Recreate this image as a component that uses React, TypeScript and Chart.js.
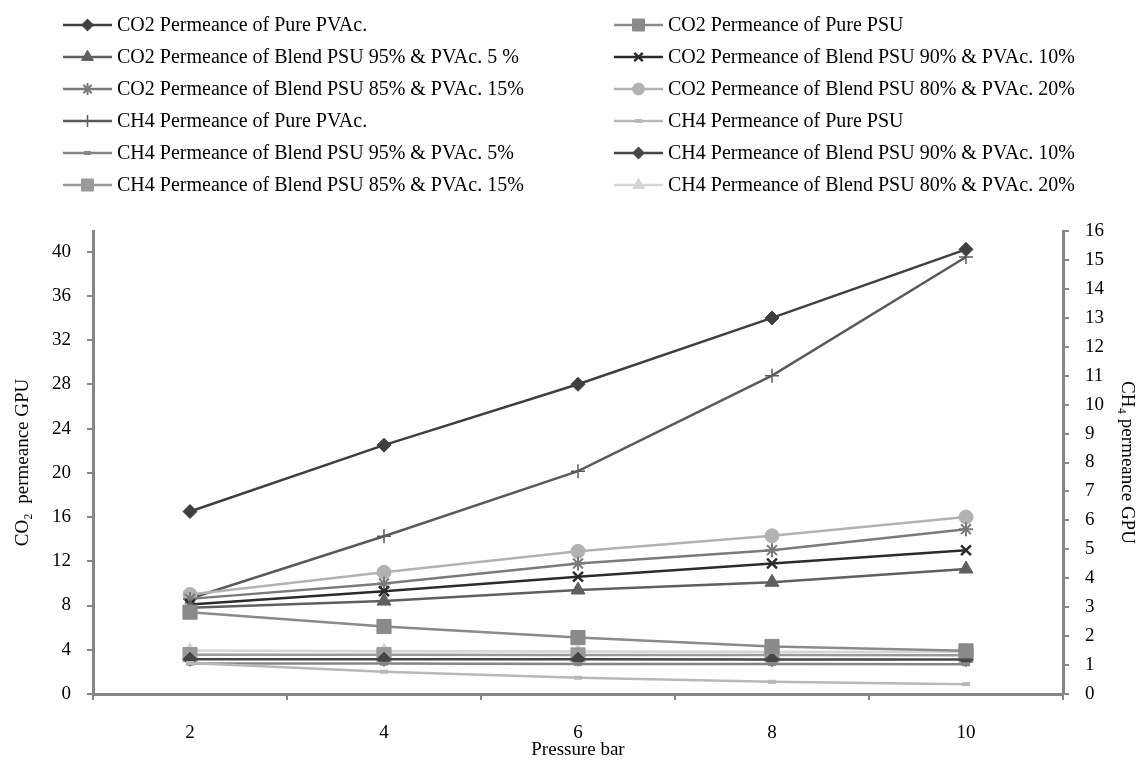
import React, { useEffect, useRef } from 'react';
import { Chart, registerables } from 'chart.js';
import { drawPoint } from 'chart.js/helpers';

Chart.register(...registerables);

const pressures = ['2', '4', '6', '8', '10'];

const co2PurePVAc = [16.5, 22.5, 28.0, 34.0, 40.2];
const co2PurePSU = [7.4, 6.1, 5.1, 4.3, 3.9];
const co2Blend95 = [7.8, 8.4, 9.4, 10.1, 11.3];
const co2Blend90 = [8.1, 9.3, 10.6, 11.8, 13.0];
const co2Blend85 = [8.6, 10.0, 11.8, 13.0, 14.9];
const co2Blend80 = [9.0, 11.0, 12.9, 14.3, 16.0];

const ch4PurePVAc = [3.3, 5.45, 7.7, 11.0, 15.1];
const ch4PurePSU = [1.07, 0.77, 0.56, 0.42, 0.34];
const ch4Blend95 = [1.05, 1.05, 1.04, 1.04, 1.03];
const ch4Blend90 = [1.2, 1.2, 1.2, 1.19, 1.19];
const ch4Blend85 = [1.36, 1.36, 1.35, 1.35, 1.34];
const ch4Blend80 = [1.5, 1.48, 1.47, 1.46, 1.45];

const leftTicks = [0, 4, 8, 12, 16, 20, 24, 28, 32, 36, 40];

const AXIS = '#868686';
const FONT = '"Liberation Serif", "Times New Roman", serif';

function ds(label: string, data: number[], axis: string, color: string, style: string, radius: number, pbw = 1) {
  return {
    label,
    data,
    yAxisID: axis,
    borderColor: color,
    backgroundColor: color,
    borderWidth: 2.5,
    pointStyle: style,
    pointRadius: radius,
    pointBackgroundColor: color,
    pointBorderColor: color,
    pointBorderWidth: pbw,
    tension: 0,
    fill: false,
  };
}

const legendPlugin = {
  id: 'customLegend',
  afterDraw(chart: any) {
    const ctx = chart.ctx;
    chart.data.datasets.forEach((d: any, i: number) => {
      const col = i % 2;
      const row = Math.floor(i / 2);
      const x0 = col === 0 ? 63 : 614;
      const y = 25 + row * 32;
      ctx.save();
      ctx.strokeStyle = d.borderColor;
      ctx.lineWidth = 2.5;
      ctx.beginPath();
      ctx.moveTo(x0, y);
      ctx.lineTo(x0 + 49, y);
      ctx.stroke();
      ctx.fillStyle = d.pointBackgroundColor;
      ctx.strokeStyle = d.pointBorderColor;
      ctx.lineWidth = d.pointBorderWidth;
      drawPoint(ctx, { pointStyle: d.pointStyle, radius: d.pointRadius * 0.85, borderWidth: d.pointBorderWidth, rotation: 0 } as any, x0 + 24.5, y);
      ctx.fillStyle = '#000';
      ctx.font = '20px ' + FONT;
      ctx.textBaseline = 'middle';
      ctx.textAlign = 'left';
      ctx.fillText(d.label, x0 + 54, y + 1);
      ctx.restore();
    });
  },
};

export default function App() {
  const ref = useRef<HTMLCanvasElement>(null);
  useEffect(() => {
    if (!ref.current) return;
    const chart = new Chart(ref.current, {
      type: 'line',
      data: {
        labels: pressures,
        datasets: [
          ds('CO2 Permeance of Pure PVAc.', co2PurePVAc, 'y', '#3f3f3f', 'rectRot', 7),
          ds('CO2 Permeance of Pure PSU', co2PurePSU, 'y', '#8a8a8a', 'rect', 10),
          ds('CO2 Permeance of Blend PSU 95% & PVAc. 5 %', co2Blend95, 'y', '#5f5f5f', 'triangle', 8),
          ds('CO2 Permeance of Blend PSU 90% & PVAc. 10%', co2Blend90, 'y', '#2b2b2b', 'crossRot', 7, 2.5),
          ds('CO2 Permeance of Blend PSU 85% & PVAc. 15%', co2Blend85, 'y', '#7a7a7a', 'star', 7, 2),
          ds('CO2 Permeance of Blend PSU 80% & PVAc. 20%', co2Blend80, 'y', '#b2b2b2', 'circle', 7),
          ds('CH4 Permeance of Pure PVAc.', ch4PurePVAc, 'y1', '#5a5a5a', 'cross', 7, 1.5),
          ds('CH4 Permeance of Pure PSU', ch4PurePSU, 'y1', '#b8b8b8', 'line', 4, 4),
          ds('CH4 Permeance of Blend PSU 95% & PVAc. 5%', ch4Blend95, 'y1', '#858585', 'line', 4, 4),
          ds('CH4 Permeance of Blend PSU 90% & PVAc. 10%', ch4Blend90, 'y1', '#454545', 'rectRot', 7),
          ds('CH4 Permeance of Blend PSU 85% & PVAc. 15%', ch4Blend85, 'y1', '#9a9a9a', 'rect', 10),
          ds('CH4 Permeance of Blend PSU 80% & PVAc. 20%', ch4Blend80, 'y1', '#d6d6d6', 'triangle', 8),
        ],
      },
      options: {
        animation: false,
        responsive: false,
        devicePixelRatio: 1,
        layout: { padding: { top: 231, left: 0, right: 0, bottom: 0 } },
        plugins: { legend: { display: false }, tooltip: { enabled: false } },
        scales: {
          x: {
            type: 'category',
            offset: true,
            grid: { offset: true, drawOnChartArea: false, drawTicks: true, tickLength: 6, color: AXIS, lineWidth: 2 },
            border: { color: AXIS, width: 3 },
            ticks: { color: '#000', font: { family: FONT, size: 19 }, padding: 22, maxRotation: 0 },
            title: { display: true, text: 'Pressure bar', color: '#000', font: { family: FONT, size: 19 }, padding: { top: 0, bottom: 3 } },
            afterFit: (s: any) => { s.height = 70; },
          },
          y: {
            position: 'left',
            min: 0,
            max: 41.86,
            afterBuildTicks: (s: any) => { s.ticks = leftTicks.map((v) => ({ value: v })); },
            grid: { drawOnChartArea: false, drawTicks: true, tickLength: 6, color: AXIS, lineWidth: 2 },
            border: { color: AXIS, width: 3 },
            ticks: { color: '#000', font: { family: FONT, size: 19 }, padding: 16 },
            title: { display: true, text: 'CO\u2082  permeance GPU', color: '#000', font: { family: FONT, size: 19 }, padding: { top: 12, bottom: 0 } },
            afterFit: (s: any) => { s.width = 93; },
          },
          y1: {
            position: 'right',
            min: 0,
            max: 16,
            ticks: { stepSize: 1, color: '#000', font: { family: FONT, size: 19 }, padding: 16 },
            grid: { drawOnChartArea: false, drawTicks: true, tickLength: 6, color: AXIS, lineWidth: 2 },
            border: { color: AXIS, width: 3 },
            title: { display: true, text: 'CH\u2084 permeance GPU', color: '#000', font: { family: FONT, size: 19 }, padding: { top: 3, bottom: 0 } },
            afterFit: (s: any) => { s.width = 78; },
          },
        },
      } as any,
      plugins: [legendPlugin],
    });
    return () => chart.destroy();
  }, []);
  return (
    <div style={{ position: 'fixed', left: 0, top: 0, width: 1141, height: 764, background: '#fff' }}>
      <canvas ref={ref} width={1141} height={764} style={{ width: 1141, height: 764 }} />
    </div>
  );
}
